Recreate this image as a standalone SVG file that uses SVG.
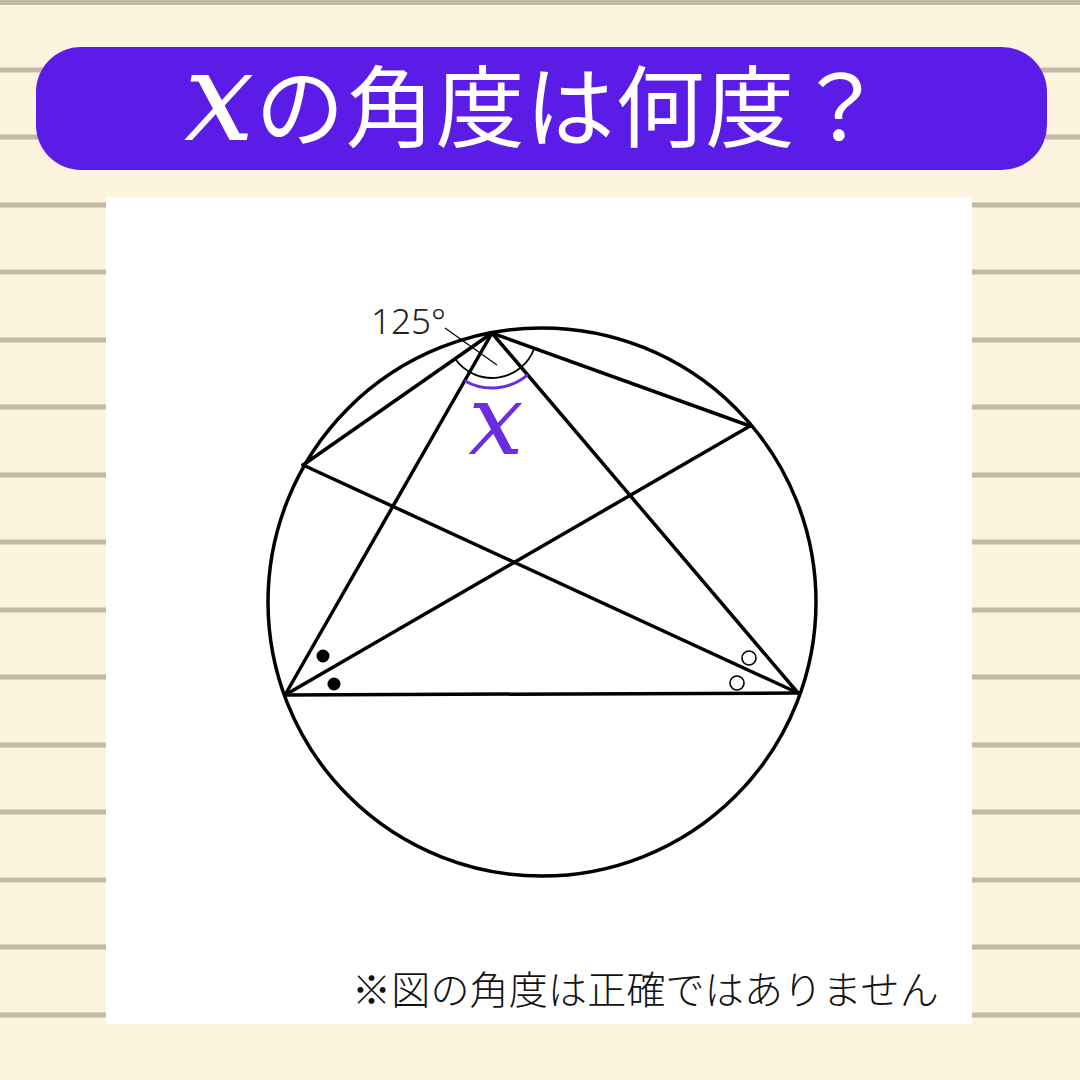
<svg xmlns="http://www.w3.org/2000/svg" width="1080" height="1080" viewBox="0 0 1080 1080">
<style>
.rule{stroke:#c3baa6;stroke-width:5}
.edge{stroke:#000;stroke-width:3.5;fill:none;stroke-linecap:round}
.jp{font-family:"Noto Sans CJK JP","Noto Sans",sans-serif}
.vx{font-family:"DejaVu Serif","Liberation Serif",serif;font-style:italic}
</style>
<rect width="1080" height="1080" fill="#fdf4e0"/>
<g id="rules">
<line class="rule" x1="0" y1="2.5" x2="1080" y2="2.5"/>
<line class="rule" x1="0" y1="70" x2="1080" y2="70"/>
<line class="rule" x1="0" y1="137" x2="1080" y2="137"/>
<line class="rule" x1="0" y1="205" x2="1080" y2="205"/>
<line class="rule" x1="0" y1="272" x2="1080" y2="272"/>
<line class="rule" x1="0" y1="340" x2="1080" y2="340"/>
<line class="rule" x1="0" y1="407" x2="1080" y2="407"/>
<line class="rule" x1="0" y1="475" x2="1080" y2="475"/>
<line class="rule" x1="0" y1="542" x2="1080" y2="542"/>
<line class="rule" x1="0" y1="610" x2="1080" y2="610"/>
<line class="rule" x1="0" y1="677" x2="1080" y2="677"/>
<line class="rule" x1="0" y1="745" x2="1080" y2="745"/>
<line class="rule" x1="0" y1="812" x2="1080" y2="812"/>
<line class="rule" x1="0" y1="880" x2="1080" y2="880"/>
<line class="rule" x1="0" y1="947" x2="1080" y2="947"/>
<line class="rule" x1="0" y1="1015" x2="1080" y2="1015"/>
</g>
<g id="title">
<rect x="36" y="47" width="1011" height="123" rx="45" fill="#5b1ce8"/>
<text x="184" y="140" font-size="89" fill="#fff" class="jp" letter-spacing="1"><tspan class="vx" font-size="125">x</tspan>の角度は何度？</text>
</g>
<rect id="panel" x="106" y="197" width="866" height="827" fill="#fff"/>
<g id="figure">
<circle id="circle" cx="542" cy="602" r="274" class="edge"/>
<g id="connectors">
<line class="edge" x1="492" y1="333" x2="285" y2="695"/>
<line class="edge" x1="492" y1="333" x2="798" y2="693"/>
<line class="edge" x1="285" y1="695" x2="798" y2="693"/>
<line class="edge" x1="492" y1="333" x2="303" y2="465"/>
<line class="edge" x1="492" y1="333" x2="750" y2="426"/>
<line class="edge" x1="303" y1="465" x2="798" y2="693"/>
<line class="edge" x1="285" y1="695" x2="750" y2="426"/>
</g>
<path id="arc125" d="M455.1,358.8 A45,45 0 0 0 534.3,348.2" fill="none" stroke="#000" stroke-width="1.8"/>
<path id="arcx" d="M464.6,380.7 A55,55 0 0 0 527.6,374.9" fill="none" stroke="#6a2ee0" stroke-width="3"/>
<line x1="445" y1="328" x2="497" y2="365" stroke="#000" stroke-width="1.2"/>
<text x="371" y="334" font-family="'Noto Sans','Open Sans',sans-serif" font-weight="300" font-size="35" fill="#222">125°</text>
<text x="496" y="454" text-anchor="middle" class="vx" font-size="98" fill="#6a2ee0">x</text>
<circle cx="323" cy="656" r="6.5" fill="#000"/>
<circle cx="334" cy="684" r="6.5" fill="#000"/>
<circle cx="749" cy="658" r="7" fill="none" stroke="#000" stroke-width="1.6"/>
<circle cx="737" cy="683" r="7" fill="none" stroke="#000" stroke-width="1.6"/>
</g>
<text id="note" x="352" y="1004" font-size="39" font-weight="300" fill="#111" class="jp" letter-spacing="0.2">※図の角度は正確ではありません</text>
</svg>
